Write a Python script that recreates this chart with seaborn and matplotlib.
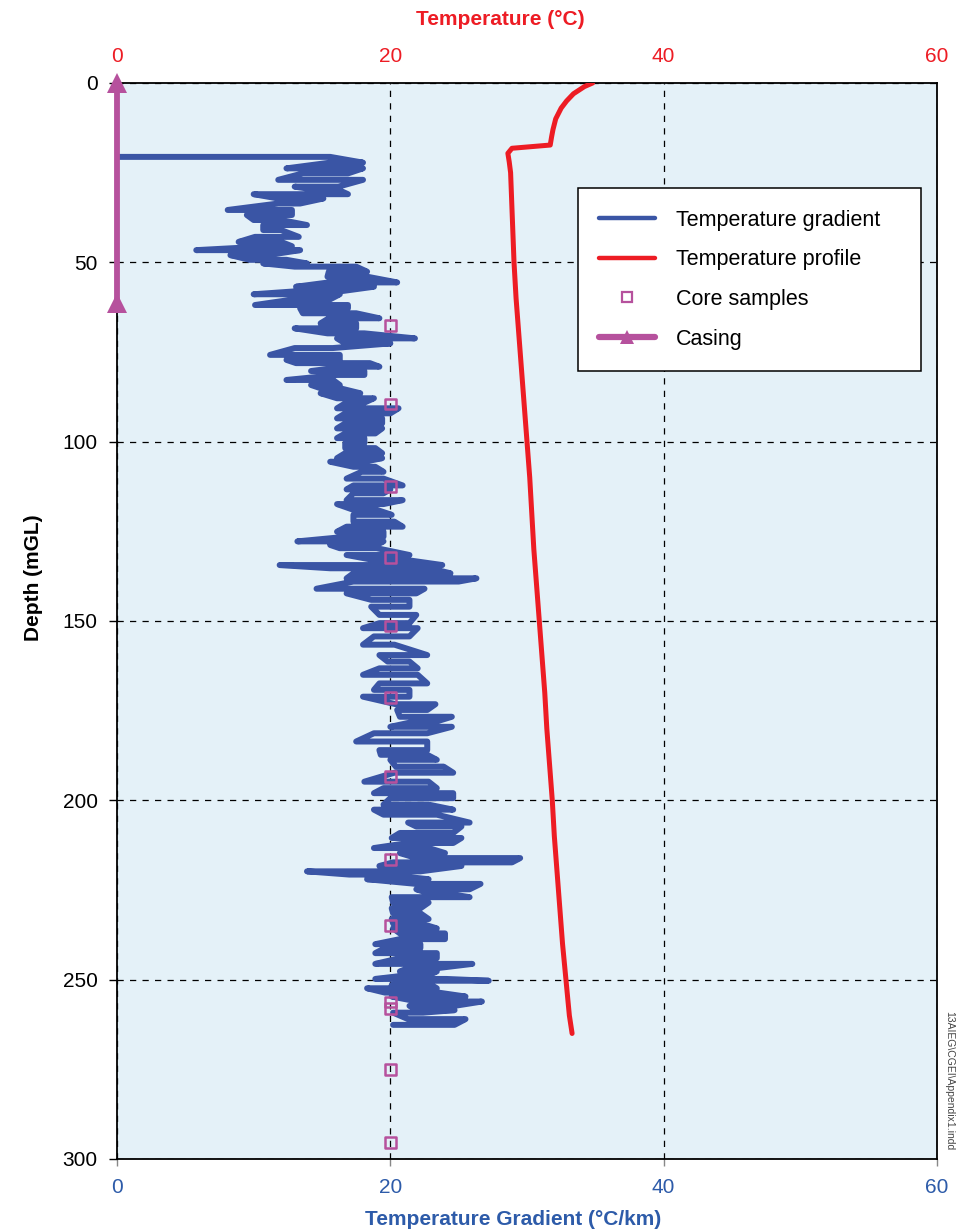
import matplotlib
matplotlib.use("Agg")
import matplotlib.pyplot as plt
import seaborn as sns
from matplotlib.lines import Line2D

# ---- data -----------------------------------------------------------------
# Temperature gradient log: for each logged depth (m) the low and high swing
# of the gradient reading (degC/km)
grad_depth = [
    20.6, 22.2, 23.8, 25.2, 27.0, 28.9, 29.8, 31.0, 32.2, 33.6,
    35.4, 36.8, 38.2, 39.6, 41.0, 42.9, 44.3, 45.5, 46.6, 48.0,
    49.3, 50.3, 51.2, 52.6, 54.0, 55.6, 56.8, 58.1, 58.9, 60.3,
    61.9, 62.8, 64.2, 65.6, 67.0, 68.4, 69.8, 71.2, 72.6, 73.9,
    75.8, 77.2, 78.1, 79.1, 80.3, 81.4, 82.8, 84.2, 85.1, 86.5,
    87.9, 89.3, 90.7, 92.1, 93.5, 94.9, 96.3, 97.7, 99.0, 100.4,
    101.8, 103.2, 104.6, 105.6, 107.0, 108.4, 110.3, 112.2, 113.3, 114.4,
    116.3, 117.4, 119.0, 120.4, 122.3, 123.7, 125.1, 126.5, 127.8, 128.8,
    129.7, 131.6, 133.0, 134.4, 135.3, 136.7, 138.1, 139.0, 141.0, 142.3,
    144.1, 146.0, 148.3, 150.6, 152.0, 154.3, 156.6, 159.5, 161.3, 163.2,
    165.0, 167.4, 169.2, 171.1, 173.2, 174.8, 176.7, 178.1, 179.5, 181.3,
    183.6, 186.0, 187.3, 188.7, 190.6, 192.3, 194.8, 196.6, 198.0, 199.4,
    201.2, 202.6, 204.0, 206.2, 207.3, 209.1, 210.5, 211.9, 213.3, 214.7,
    216.1, 217.3, 218.3, 219.8, 220.7, 222.0, 223.3, 224.8, 225.9, 227.0,
    228.5, 230.1, 231.5, 233.1, 234.3, 235.7, 237.1, 238.7, 240.1, 241.2,
    242.6, 244.0, 245.6, 246.8, 247.7, 248.6, 249.8, 250.3, 251.5, 252.4,
    253.6, 254.7, 256.1, 257.3, 258.5, 259.2, 261.0, 262.6,
]
grad_low = [
    0.0, 15.6, 12.4, 13.6, 11.8, 13.0, 14.6, 10.0, 11.8, 11.8,
    8.1, 9.5, 10.0, 10.7, 10.7, 10.1, 8.9, 11.2, 5.8, 8.3,
    9.7, 10.7, 13.0, 15.5, 15.4, 15.5, 13.1, 13.0, 10.0, 13.0,
    10.1, 13.4, 13.6, 15.5, 14.9, 13.0, 15.4, 16.1, 16.7, 13.0,
    11.2, 12.4, 13.1, 16.7, 14.2, 16.1, 12.4, 14.2, 14.9, 14.9,
    16.1, 16.7, 16.1, 16.7, 16.1, 16.7, 16.1, 16.7, 16.1, 16.7,
    16.7, 16.7, 16.1, 15.6, 17.3, 17.9, 16.8, 17.3, 16.8, 17.3,
    16.8, 16.1, 17.3, 17.3, 17.3, 16.8, 16.1, 16.8, 13.2, 15.6,
    16.3, 16.8, 18.8, 11.9, 15.6, 17.3, 16.8, 17.3, 14.6, 16.8,
    18.6, 18.6, 19.2, 19.2, 18.0, 18.8, 18.0, 19.2, 19.8, 19.2,
    18.0, 19.2, 18.8, 18.0, 20.4, 20.5, 20.7, 21.7, 20.0, 18.8,
    17.5, 19.2, 19.3, 20.0, 20.4, 20.3, 18.1, 19.5, 18.8, 20.0,
    19.5, 18.8, 19.5, 21.3, 21.9, 20.7, 20.1, 21.3, 18.8, 20.7,
    21.9, 20.2, 19.2, 13.9, 17.0, 18.3, 21.9, 21.9, 22.8, 20.1,
    20.2, 20.1, 20.2, 20.1, 20.2, 20.2, 20.7, 20.7, 18.9, 19.6,
    18.9, 20.7, 18.9, 21.3, 20.7, 21.6, 18.9, 23.1, 20.1, 18.3,
    19.6, 20.1, 22.0, 21.4, 22.0, 20.2, 21.3, 20.2,
]
grad_high = [
    15.6, 18.0, 18.0, 16.9, 18.0, 16.2, 16.2, 16.9, 15.1, 13.4,
    12.8, 12.8, 12.0, 13.9, 12.0, 13.3, 12.0, 12.8, 13.4, 11.0,
    12.4, 13.9, 17.5, 18.3, 18.3, 20.5, 18.8, 16.3, 16.3, 15.6,
    16.9, 16.9, 17.5, 19.2, 17.5, 17.5, 18.1, 21.8, 20.0, 15.8,
    16.3, 16.3, 18.5, 19.2, 18.1, 18.1, 15.8, 16.3, 16.3, 17.8,
    18.8, 18.0, 20.6, 20.0, 19.4, 19.4, 19.4, 18.9, 18.1, 18.1,
    18.9, 19.4, 19.4, 18.1, 18.9, 19.5, 19.5, 20.9, 20.0, 19.5,
    20.9, 19.5, 19.0, 20.1, 20.3, 20.9, 19.5, 19.5, 19.5, 19.0,
    19.0, 21.4, 21.2, 23.8, 22.9, 24.4, 26.3, 25.0, 22.5, 21.9,
    21.4, 21.4, 21.9, 21.4, 22.0, 21.4, 20.3, 22.7, 21.4, 22.0,
    22.0, 22.7, 21.4, 21.4, 23.3, 22.7, 24.5, 23.3, 24.5, 22.7,
    22.7, 22.7, 22.7, 23.4, 23.9, 24.6, 22.8, 23.4, 24.6, 24.6,
    22.8, 24.6, 23.4, 25.8, 25.2, 24.6, 25.2, 24.6, 22.8, 24.0,
    29.5, 28.9, 25.2, 22.2, 19.7, 22.8, 26.6, 25.8, 24.0, 25.8,
    22.8, 22.2, 22.2, 22.8, 22.2, 23.4, 24.0, 24.0, 22.2, 22.2,
    23.4, 23.4, 26.0, 23.4, 23.4, 22.9, 24.1, 27.2, 23.0, 23.4,
    23.5, 25.5, 26.7, 24.7, 24.7, 22.4, 25.5, 24.7,
]

# Temperature profile (degC) against depth (m)
temp_depth = [0, 1, 3, 5, 7, 10, 13, 15, 17.3, 18.2, 19.6, 22, 25, 30, 40,
              50, 60, 70, 80, 90, 100, 110, 120, 130, 140, 150, 160, 170,
              180, 190, 200, 210, 220, 230, 240, 250, 260, 265]
temp_c = [34.8, 34.2, 33.4, 32.9, 32.5, 32.1, 31.9, 31.8, 31.7, 28.9, 28.6,
          28.7, 28.8, 28.85, 28.95, 29.05, 29.2, 29.4, 29.6, 29.8, 30.0,
          30.2, 30.35, 30.5, 30.7, 30.9, 31.1, 31.3, 31.45, 31.65, 31.85,
          32.0, 32.2, 32.4, 32.6, 32.85, 33.1, 33.3]

# Core sample depths (m)
core_depth = [67.6, 89.5, 112.5, 132.2, 151.4, 171.3, 193.3, 216.4, 234.8,
              256.2, 258.0, 275.0, 295.5]
core_x = [20, 20, 20, 20, 20, 20, 20, 20, 20, 20, 20, 20, 20]

# Casing interval (m)
casing_depth = [0, 61.4]
casing_x = [0, 0]

x_ticks = [0, 20, 40, 60]
depth_ticks = [0, 50, 100, 150, 200, 250, 300]

# ---- style ------------------------------------------------------------------
BG = "#e4f1f8"
BLUE = "#3a55a5"
BLUE_TXT = "#2d5ba9"
RED = "#ed1c24"
MAG = "#b6519d"

sns.set_theme(style="white")
plt.rcParams["font.family"] = ["Liberation Sans", "DejaVu Sans"]

fig = plt.figure(figsize=(9.73, 12.32), dpi=100)
ax = fig.add_axes([117 / 973, 1 - 1159 / 1232, 820 / 973, 1076 / 1232])
ax.set_facecolor(BG)

# gradient trace: at each logged depth the reading swings across its range,
# alternating direction from one depth to the next
path_depth, path_val = [], []
for i, (d, lo, hi) in enumerate(zip(grad_depth, grad_low, grad_high)):
    path_depth += [d, d]
    path_val += [lo, hi] if i % 2 == 0 else [hi, lo]

sns.lineplot(x=path_val, y=path_depth, ax=ax, sort=False, estimator=None,
             color=BLUE, lw=4.3, legend=False, zorder=3,
             solid_joinstyle="round", solid_capstyle="round")

sns.scatterplot(x=core_x, y=core_depth, ax=ax, marker="s", s=60,
                facecolors="none", edgecolor=MAG, linewidth=1.8,
                zorder=4, legend=False)

sns.lineplot(x=casing_x, y=casing_depth, ax=ax, sort=False, estimator=None,
             color=MAG, lw=4.2, marker="^", markersize=15,
             markeredgewidth=0, clip_on=False, zorder=6, legend=False)

ax.set_xlim(0, 60)
ax.set_ylim(300, 0)
ax.set_xticks(x_ticks)
ax.set_yticks(depth_ticks)
ax.grid(True, color="black", linestyle=(0, (5, 5)), linewidth=0.9)
ax.set_axisbelow(True)

for side in ["left", "right", "top", "bottom"]:
    ax.spines[side].set_color("black")
    ax.spines[side].set_linewidth(1.3)

ax.tick_params(axis="x", bottom=True, top=False, direction="out", length=5,
               width=1, color="#888888", labelcolor=BLUE_TXT, labelsize=15,
               pad=9)
ax.tick_params(axis="y", left=True, right=False, direction="out", length=6,
               width=1, color="black", labelcolor="black", labelsize=15,
               pad=8)

ax.set_xlabel("Temperature Gradient (°C/km)", color=BLUE_TXT, fontsize=15,
              fontweight="bold")
ax.xaxis.set_label_coords(0.4835, -0.047)
ax.set_ylabel("Depth (mGL)", color="black", fontsize=15, fontweight="bold")
ax.yaxis.set_label_coords(-0.090, 0.54)

# temperature profile on the top axis
ax2 = ax.twiny()
sns.lineplot(x=temp_c, y=temp_depth, ax=ax2, sort=False, estimator=None,
             color=RED, lw=3.6, legend=False, solid_capstyle="round")
ax2.set_xlim(0, 60)
ax2.set_ylim(300, 0)
ax2.set_xticks(x_ticks)
ax2.grid(False)
for side in ["left", "right", "top", "bottom"]:
    ax2.spines[side].set_visible(False)
ax2.tick_params(axis="x", top=True, bottom=False, length=0,
                labelcolor=RED, labelsize=15, pad=12)
ax2.set_xlabel("Temperature (°C)", color=RED, fontsize=15, fontweight="bold")
ax2.xaxis.set_label_coords(0.467, 1.054)

handles = [
    Line2D([], [], color=BLUE, lw=3.2),
    Line2D([], [], color=RED, lw=3.2),
    Line2D([], [], ls="none", marker="s", mfc="none", mec=MAG, ms=7, mew=1.6),
    Line2D([], [], color=MAG, lw=4.5, marker="^", ms=10, mew=0),
]
labels = ["Temperature gradient", "Temperature profile", "Core samples",
          "Casing"]
leg = ax2.legend(handles, labels, loc="upper left",
                 bbox_to_anchor=(0.562, 0.739, 0.418, 0.1634),
                 bbox_transform=ax.transAxes, mode="expand", borderaxespad=0,
                 frameon=True, fancybox=False, framealpha=1,
                 edgecolor="black", facecolor="white", fontsize=15.5,
                 handlelength=2.6, handletextpad=0.95, labelspacing=0.87,
                 borderpad=1.0)
leg.get_frame().set_linewidth(1.1)
for t in leg.get_texts():
    t.set_color("black")

fig.text(0.976, 0.123, "13AIEG\\CGEI\\Appendix1.indd", rotation=270,
         fontsize=7.5, color="#444444", ha="center", va="center")

fig.savefig("out.png", dpi=100, facecolor="white")
